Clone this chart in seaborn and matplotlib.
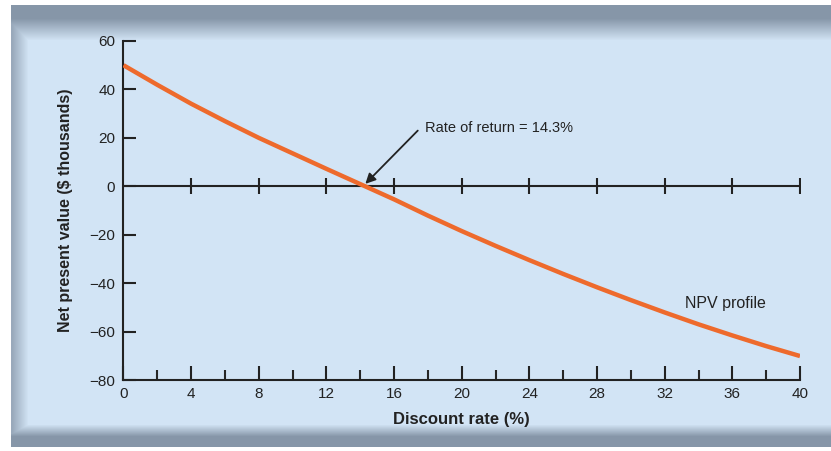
import numpy as np
import pandas as pd
import seaborn as sns
import matplotlib.pyplot as plt

# values
rates = [0, 2, 4, 6, 8, 10, 12, 14, 16, 18, 20, 22, 24, 26, 28, 30, 32, 34, 36, 38, 40]
npv = [50, 41.9, 34.1, 26.9, 20, 13.6, 7.2, 0.9, -5.4, -12.1, -18.5, -24.6, -30.5,
       -36.2, -41.7, -47, -52.1, -57, -61.6, -66, -70.1]
irr = 14.3
x_ticks = [0, 4, 8, 12, 16, 20, 24, 28, 32, 36, 40]
x_minor = [2, 6, 10, 14, 18, 22, 26, 30, 34, 38]
y_ticks = [-80, -60, -40, -20, 0, 20, 40, 60]
y_labels = ['\u221280', '\u221260', '\u221240', '\u221220', '0', '20', '40', '60']

df = pd.DataFrame({'rate': rates, 'npv': npv})

sns.set_style("ticks")
plt.rcParams['font.family'] = ['Liberation Sans', 'DejaVu Sans']

fig = plt.figure(figsize=(8.31, 4.51), dpi=100)

# panel background with grey bevel
H, W = 451, 831
yy, xx = np.mgrid[0:H, 0:W]
blue = np.array([210, 228, 245]) / 255
grey = np.array([134, 150, 168]) / 255
w_top = np.clip((40 - yy) / 22, 0, 1)
w_left = np.clip((28 - xx) / 16, 0, 1) * 0.75
w_bot = np.clip((yy - 424) / 12, 0, 1)
w = np.maximum(np.maximum(w_top, w_left), w_bot)[..., None]
img = blue * (1 - w) + grey * w
outside = (yy < 5) | (xx < 11) | (yy > 446)
img[outside] = 1
bg = fig.add_axes([0, 0, 1, 1], zorder=-1)
bg.imshow(img, aspect='auto')
bg.axis('off')

ax = fig.add_axes([0.1486, 0.1574, 0.8141, 0.7517])
ax.set_facecolor('none')

sns.lineplot(data=df, x='rate', y='npv', ax=ax, color='#ee6a2c', linewidth=3.2,
             solid_capstyle='butt', zorder=3)

ax.axhline(0, color='#222222', lw=1.5, zorder=2)
ax.plot(x_ticks[1:], [0] * (len(x_ticks) - 1), linestyle='none', marker='|',
        ms=12, mew=1.5, color='#222222', zorder=2)

ax.set_xlim(0, 40)
ax.set_ylim(-80, 60)
ax.set_xticks(x_ticks)
ax.set_xticks(x_minor, minor=True)
ax.set_yticks(y_ticks)
ax.set_yticklabels(y_labels)
ax.tick_params(axis='x', which='major', direction='in', length=10, width=1.5,
               pad=5, labelsize=11, colors='#222222')
ax.tick_params(axis='x', which='minor', direction='in', length=7, width=1.5)
ax.tick_params(axis='y', direction='in', length=9.5, width=1.5, pad=6,
               labelsize=11, colors='#222222')
for s in ['top', 'right']:
    ax.spines[s].set_visible(False)
for s in ['left', 'bottom']:
    ax.spines[s].set_linewidth(1.5)
    ax.spines[s].set_color('#222222')

ax.set_xlabel('Discount rate (%)', fontsize=12, fontweight='bold', color='#222222', labelpad=8)
ax.set_ylabel('Net present value ($ thousands)', fontsize=11.5, fontweight='bold',
              color='#222222', labelpad=12)

ax.annotate('', xy=(irr, 1.0), xytext=(17.4, 23),
            arrowprops=dict(arrowstyle='-|>', color='#222222', lw=1.3,
                            shrinkA=0, shrinkB=0, mutation_scale=15))
ax.text(17.8, 24, 'Rate of return = 14.3%', fontsize=10.5, color='#222222',
        va='center', ha='left')
ax.text(33.2, -48.6, 'NPV profile', fontsize=11.5, color='#222222', va='center', ha='left')

fig.savefig('out.png', dpi=100)
